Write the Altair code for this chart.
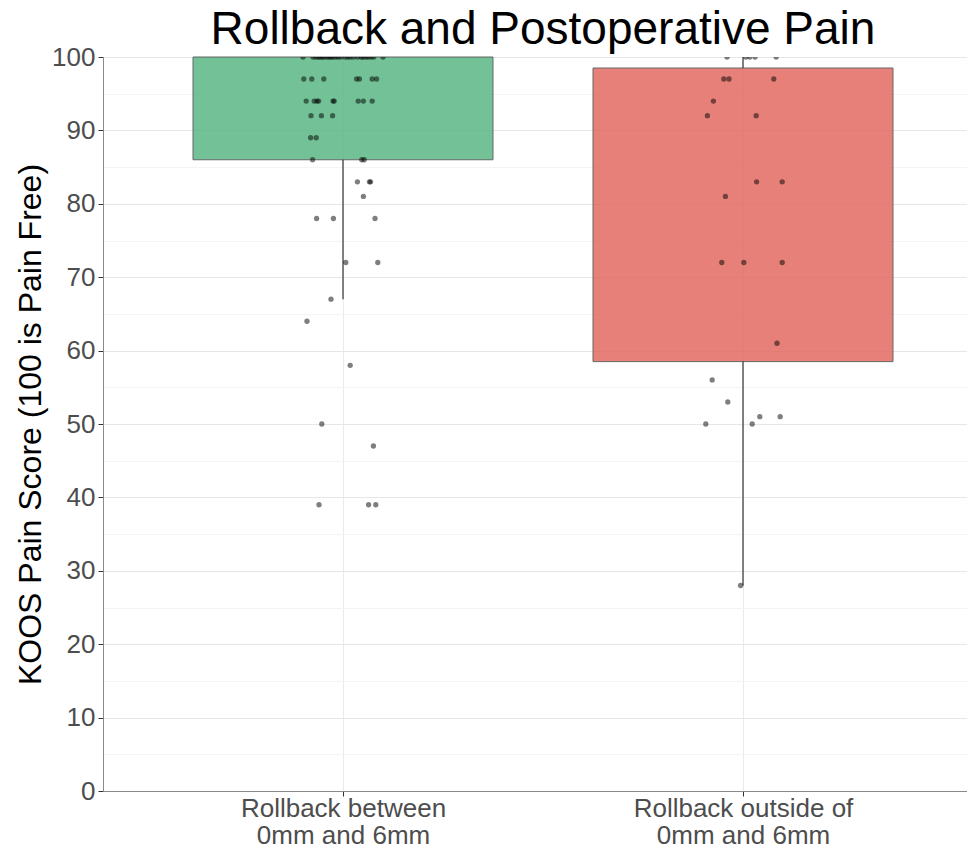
import json
import altair as alt
import pandas as pd

# ---------------- data ----------------
title_text = "Rollback and Postoperative Pain"
groups = [1, 2]
group_lines = [["Rollback between", "0mm and 6mm"], ["Rollback outside of", "0mm and 6mm"]]
box_fill = ["#5BB784", "#E26A62"]

# box statistics
q1 = [86.0, 58.5]
q3 = [100.0, 98.5]
whisk_lo = [67.0, 28.0]
whisk_hi = [100.0, 100.0]

# group 1 points: score and horizontal jitter (category units)
g1_score = [100] * 26 + [97] * 7 + [94] * 9 + [92] * 3 + [89] * 2 + [86] * 3 + [83] * 3 + [81] + [78] * 3 + [72] * 2 + [67, 64, 58, 50, 47] + [39] * 3
g1_jit = [-0.100, -0.075, -0.068, -0.062, -0.057, -0.052, -0.047, -0.040, -0.035, -0.030, -0.025,
          -0.018, -0.012, -0.005, 0.005, 0.012, 0.018, 0.026, 0.036, 0.045, 0.050, 0.057, 0.063, 0.070, 0.077, 0.100,
          -0.098, -0.078, -0.048, 0.034, 0.041, 0.073, 0.084,
          -0.092, -0.072, -0.065, -0.061, -0.025, -0.022, 0.038, 0.051, 0.073,
          -0.080, -0.054, -0.026,
          -0.081, -0.067,
          -0.076, 0.047, 0.053,
          0.036, 0.066, 0.069,
          0.051,
          -0.066, -0.024, 0.080,
          0.007, 0.087,
          -0.030, -0.090, 0.018, -0.053, 0.076,
          -0.060, 0.064, 0.082]

# group 2 points
g2_score = [100] * 5 + [97] * 3 + [94] + [92] * 2 + [83] * 2 + [81] + [72] * 3 + [61, 56, 53] + [51] * 2 + [50] * 2 + [28]
g2_jit = [-0.040, 0.007, 0.017, 0.030, 0.083,
          -0.048, -0.035, 0.077,
          -0.074,
          -0.089, 0.033,
          0.034, 0.098,
          -0.044,
          -0.053, 0.002, 0.098,
          0.085, -0.077, -0.038,
          0.042, 0.093,
          -0.093, 0.023,
          -0.006]

# ---------------- tables ----------------
boxes = pd.DataFrame({"g": groups, "q1": q1, "q3": q3, "lo": whisk_lo, "hi": whisk_hi, "fill": box_fill})
pts = pd.DataFrame({
    "g": [1] * len(g1_score) + [2] * len(g2_score),
    "score": g1_score + g2_score,
    "jit": g1_jit + g2_jit,
})
title_df = pd.DataFrame({"t": [title_text]})

FONT = "Liberation Sans"
W, H = 864, 734
label_expr = "datum.value == 1 ? %s : %s" % (json.dumps(group_lines[0]), json.dumps(group_lines[1]))
major = "datum.value % 10 == 0"

x_scale = alt.Scale(domain=[0.4, 2.56], nice=False, zero=False)
y_scale = alt.Scale(domain=[0, 100], nice=False, zero=False)

x_axis = alt.Axis(values=groups, labelExpr=label_expr, title=None, grid=True, gridColor="#ebebeb",
                  tickSize=5, tickColor="#333333", domainColor="#8a8a8a", labelFont=FONT, labelFontSize=26,
                  labelColor="#4d4d4d", labelLineHeight=27, labelPadding=-1, labelBaseline="top",
                  labelLimit=500)
y_axis = alt.Axis(values=list(range(0, 101, 5)), labelExpr=major + " ? datum.label : ''",
                  title="KOOS Pain Score (100 is Pain Free)",
                  gridColor={"condition": {"test": major, "value": "#e6e6e6"}, "value": "#f4f4f4"},
                  tickOpacity={"condition": {"test": major, "value": 1}, "value": 0},
                  tickSize=5, tickColor="#333333", domainColor="#8a8a8a", labelFont=FONT, labelFontSize=26,
                  labelColor="#4d4d4d", labelPadding=3, titleFont=FONT, titleFontSize=32,
                  titleFontWeight="normal", titleColor="black", titlePadding=4)

box_layer = alt.Chart(boxes).transform_calculate(
    x0="datum.g - 0.375", x1="datum.g + 0.375"
).mark_rect(stroke="#4d4d4d", strokeWidth=1, opacity=0.85).encode(
    x=alt.X("x0:Q", scale=x_scale, axis=x_axis),
    x2="x1:Q",
    y=alt.Y("q1:Q", scale=y_scale, axis=y_axis),
    y2="q3:Q",
    fill=alt.Fill("fill:N", scale=None),
)

whisk_low = alt.Chart(boxes).mark_rule(color="#333333", strokeWidth=1.2).encode(
    x=alt.X("g:Q", scale=x_scale, axis=x_axis),
    y=alt.Y("lo:Q", scale=y_scale, axis=y_axis),
    y2="q1:Q",
)
whisk_high = alt.Chart(boxes).mark_rule(color="#333333", strokeWidth=1.2).encode(
    x=alt.X("g:Q", scale=x_scale, axis=x_axis),
    y=alt.Y("q3:Q", scale=y_scale, axis=y_axis),
    y2="hi:Q",
)

points = alt.Chart(pts).transform_calculate(
    xp="datum.g + datum.jit"
).mark_circle(size=28, color="black", opacity=0.5, clip=True).encode(
    x=alt.X("xp:Q", scale=x_scale, axis=x_axis),
    y=alt.Y("score:Q", scale=y_scale, axis=y_axis),
)

title_layer = alt.Chart(title_df).mark_text(
    font=FONT, fontSize=46, color="black", align="center", baseline="alphabetic"
).encode(
    text="t:N",
    x=alt.value(W / 2 + 8),
    y=alt.value(-13),
)

chart = alt.layer(box_layer, whisk_low, whisk_high, points, title_layer).properties(
    width=W,
    height=H,
    padding={"left": 95, "top": 49, "right": 0, "bottom": 55},
    autosize=alt.AutoSizeParams(type="none"),
).configure_view(stroke="#8a8a8a", strokeWidth=1).configure(background="white")

chart.save("out.html", embed_options={"renderer": "svg", "actions": False})
